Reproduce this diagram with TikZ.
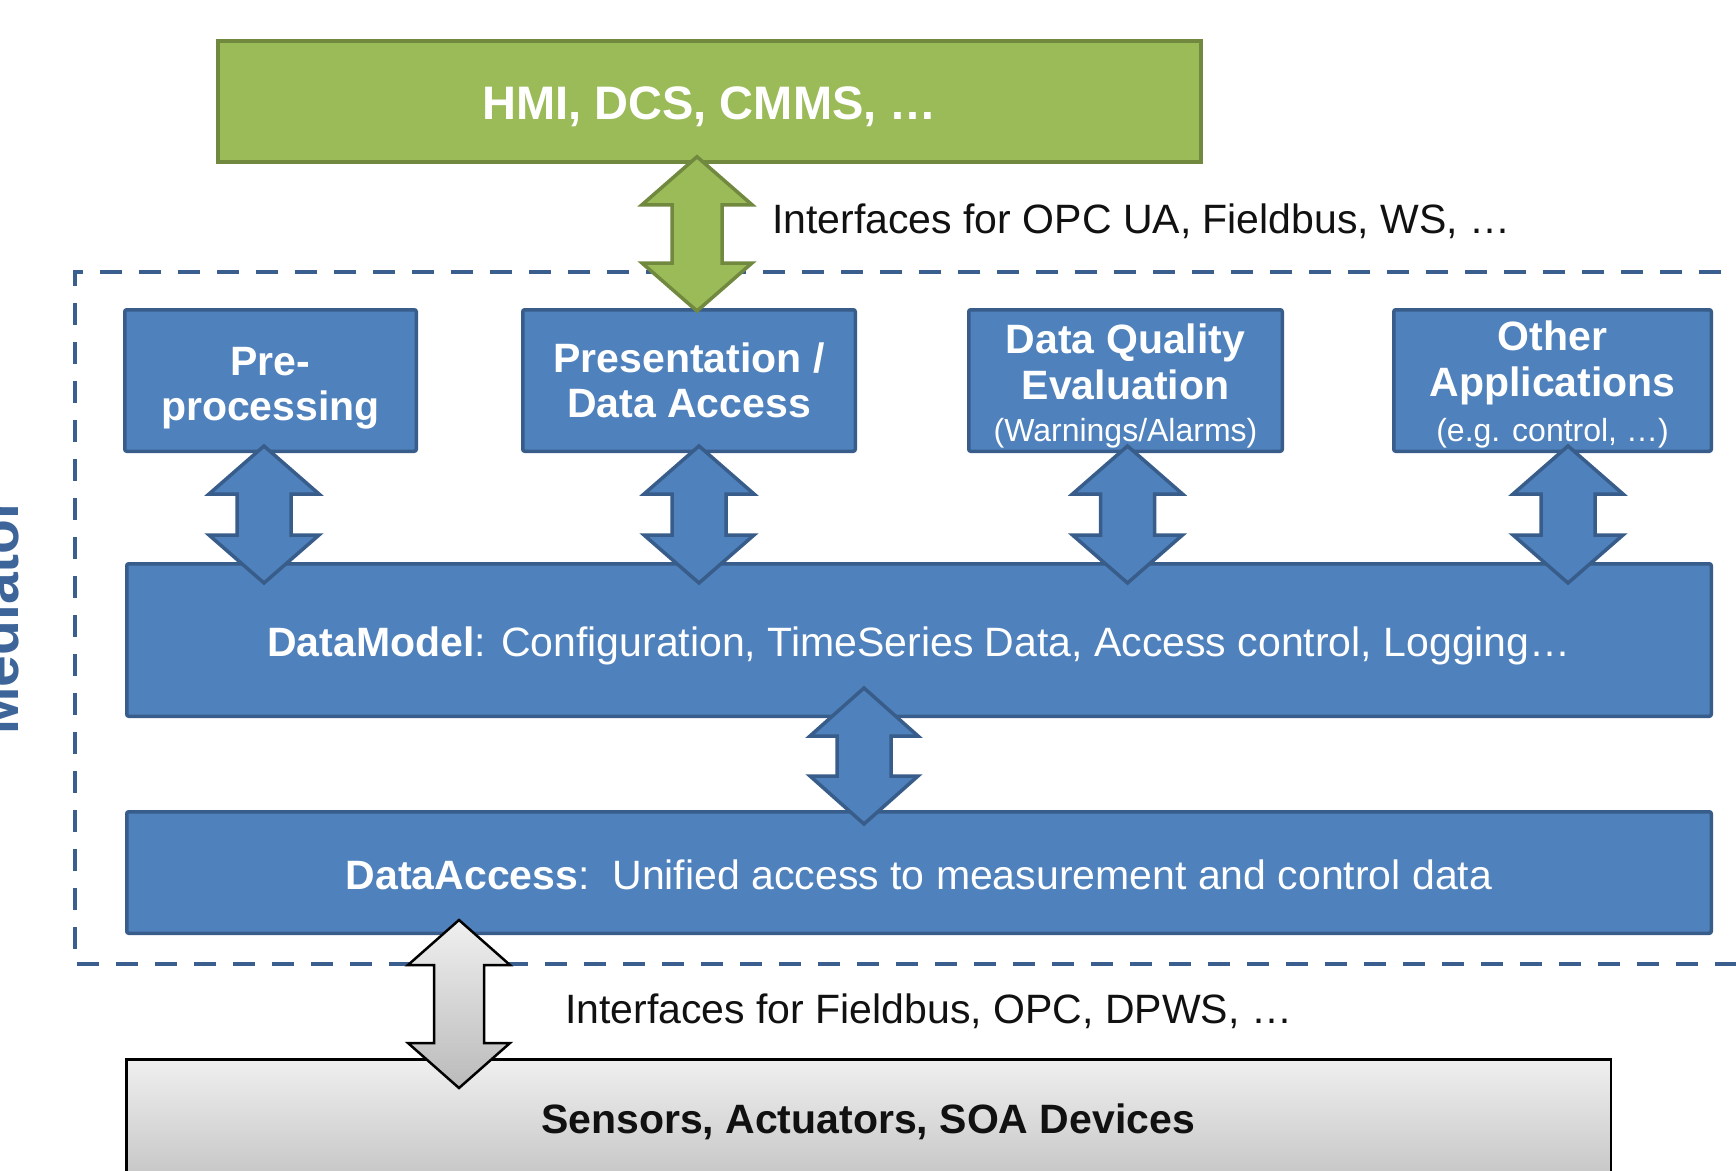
\documentclass[tikz,border=0pt]{standalone}
\usepackage{fontspec}
\setmainfont{Liberation Sans}
\usetikzlibrary{calc}
\definecolor{bfill}{HTML}{4F81BD}
\definecolor{bline}{HTML}{385D8A}
\definecolor{gfill}{HTML}{9BBB59}
\definecolor{gline}{HTML}{71893F}
\definecolor{dashcol}{HTML}{3A5F8E}
\definecolor{medcol}{HTML}{3D659A}
\definecolor{txtcol}{HTML}{111111}
\newcommand\fA{\fontsize{41}{45.5}\selectfont}
\newcommand\fB{\fontsize{32}{40}\selectfont}
\newcommand\fH{\fontsize{47}{52}\selectfont}
\newcommand\fM{\fontsize{57}{62}\selectfont}
% double block arrow: style, top tip, bottom tip, head half width, shaft half width, head length
\newcommand\dblarrow[6]{%
  \path[#1] let \p1=(#2), \p2=(#3) in
   (\x1,\y1) -- (\x1+#4,\y1-#6) -- (\x1+#5,\y1-#6) -- (\x1+#5,\y2+#6)
   -- (\x1+#4,\y2+#6) -- (\x1,\y2) -- (\x1-#4,\y2+#6) -- (\x1-#5,\y2+#6)
   -- (\x1-#5,\y1-#6) -- (\x1-#4,\y1-#6) -- cycle;}
\begin{document}
\begin{tikzpicture}[x=1pt,y=-1pt,
  box/.style={draw=bline, line width=3.5pt, fill=bfill, rounded corners=2pt,
    text=white, font=\fA, align=center, inner sep=0pt},
  topbox/.style={box, font=\fA\bfseries, minimum height=141.5pt},
  widebox/.style={box, minimum width=1584.5pt, text height=33.5pt, text depth=0pt},
  gbox/.style={draw=gline, line width=3.5pt, fill=gfill, text=white,
    font=\fH\bfseries, inner sep=0pt, text height=36.5pt, text depth=0pt},
  sbox/.style={draw=black, line width=2.5pt, top color=black!6, bottom color=black!28,
    inner sep=0pt},
  barrow/.style={draw=bline, line width=3.5pt, fill=bfill},
  garrow/.style={draw=gline, line width=3.5pt, fill=gfill},
  grayarrow/.style={draw=black, line width=2.5pt, top color=black!6, bottom color=black!27},
  dashedframe/.style={draw=dashcol, line width=4pt, dash pattern=on 22pt off 17pt},
  lbl/.style={font=\fA, text=txtcol, inner sep=0pt}]
\useasboundingbox (0,0) rectangle (1736,1170);
\clip (0,0) rectangle (1736,1170);
\fill[white] (0,0) rectangle (1736,1170);

% mediator frame
\draw[dashedframe] (1760,272) -- (75,272) -- (75,964) -- (1760,964);
\node[font=\fM\bfseries, text=medcol, rotate=90, anchor=base, inner sep=0pt] (med) at (18.5,616) {Mediator};

% top application
\node[gbox, minimum width=983pt, minimum height=121pt] (hmi) at (709.5,101.5) {HMI, DCS, CMMS, …};

% application boxes
\node[topbox, minimum width=291.5pt] (pre) at (270.5,380.5) {\rule{0pt}{44pt}Pre-\\processing};
\node[topbox, minimum width=332.5pt] (pres) at (689,380.5) {Presentation /\\Data Access};
\node[topbox, minimum width=313.5pt] (dq) at (1125.5,380.5) {\rule{0pt}{41pt}Data Quality\\Evaluation\\[-3pt]{\fB\mdseries (Warnings/Alarms)}};
\node[topbox, minimum width=317.5pt] (oth) at (1552.5,380.5) {\rule{0pt}{38pt}Other\\Applications\\[0pt]{\fB\mdseries (e.g. control, …)}};

% layers
\node[widebox, minimum height=152.5pt] (dm) at (919,640) {\textbf{DataModel}: Configuration, TimeSeries Data, Access control, Logging…};
\node[widebox, minimum height=121.5pt] (da) at (919,872.5) {\textbf{DataAccess}:\ \ Unified access to measurement and control data};

% devices
\node[sbox, minimum width=1484.5pt, minimum height=160pt] (sen) at (868.5,1139.25) {};
\node[font=\fA\bfseries, text=txtcol, anchor=base, inner sep=0pt] (sentext) at (868,1133) {Sensors, Actuators, SOA Devices};

% labels
\node[lbl, anchor=base west] (if1) at (772,233) {Interfaces for OPC UA, Fieldbus, WS, …};
\node[lbl, anchor=base west] (if2) at (565,1023) {Interfaces for Fieldbus, OPC, DPWS, …};

% arrows
\dblarrow{garrow}{[xshift=-12.5pt,yshift=7pt]hmi.south}{[yshift=-3pt]pres.north}{55pt}{25pt}{48pt}
\dblarrow{barrow}{[xshift=-6.5pt,yshift=7pt]pre.south}{[yshift=-21pt]dm.north}{55pt}{27pt}{48pt}
\dblarrow{barrow}{[xshift=10pt,yshift=7pt]pres.south}{[yshift=-21pt]dm.north}{55pt}{27pt}{48pt}
\dblarrow{barrow}{[xshift=2pt,yshift=7pt]dq.south}{[yshift=-21pt]dm.north}{55pt}{27pt}{48pt}
\dblarrow{barrow}{[xshift=15.5pt,yshift=7pt]oth.south}{[yshift=-21pt]dm.north}{55pt}{27pt}{48pt}
\dblarrow{barrow}{[xshift=-55pt,yshift=30pt]dm.south}{[yshift=-14pt]da.north}{54pt}{27pt}{48pt}
\dblarrow{grayarrow}{[xshift=-460pt,yshift=15pt]da.south}{[yshift=-30pt]sen.north}{51pt}{25pt}{45pt}
\end{tikzpicture}
\end{document}
